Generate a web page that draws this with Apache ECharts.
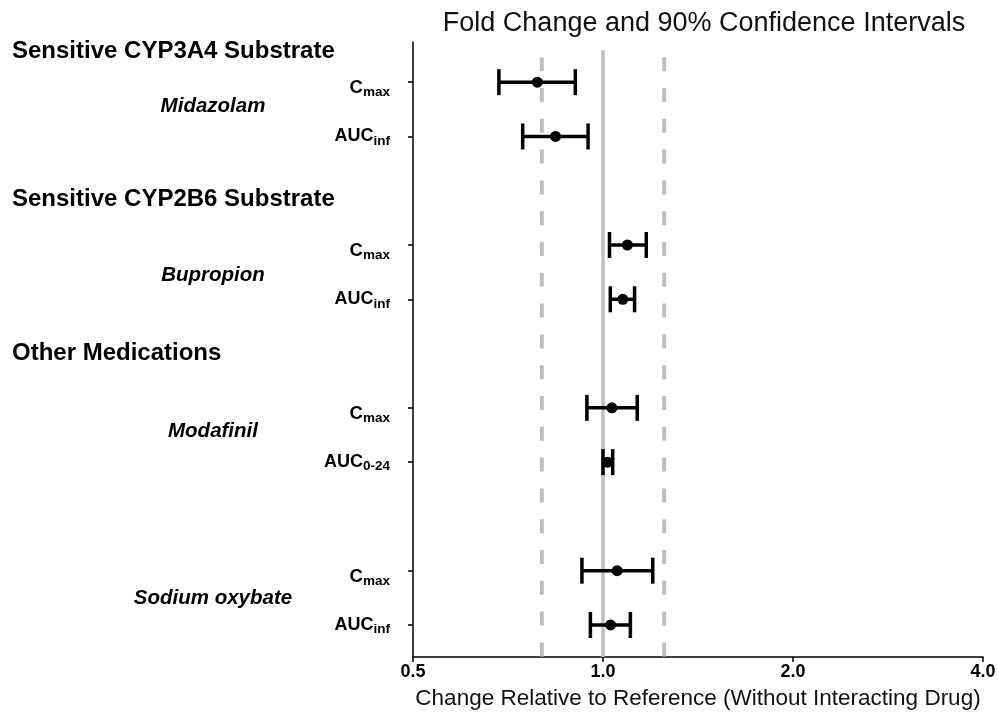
<!DOCTYPE html>
<html><head><meta charset="utf-8">
<script src="https://cdn.jsdelivr.net/npm/echarts@6/dist/echarts.min.js"></script>
<style>html,body{margin:0;padding:0;background:#fff}#c{width:998px;height:712px}</style>
</head><body><div id="c"></div>
<script>
// ---- data ----
const rowPos = [0, 1, 3, 4, 6, 7, 9, 10];
const rowMain = ['C', 'AUC', 'C', 'AUC', 'C', 'AUC', 'C', 'AUC'];
const rowSub = ['max', 'inf', 'max', 'inf', 'max', '0-24', 'max', 'inf'];
const estimates = [0.787, 0.841, 1.093, 1.075, 1.033, 1.017, 1.053, 1.028];
const lower = [0.684, 0.746, 1.024, 1.027, 0.943, 1.000, 0.926, 0.955];
const upper = [0.904, 0.947, 1.171, 1.122, 1.133, 1.036, 1.199, 1.105];
const drugs = ['Midazolam', 'Bupropion', 'Modafinil', 'Sodium oxybate'];
const groups = ['Sensitive CYP3A4 Substrate', 'Sensitive CYP2B6 Substrate', 'Other Medications'];
const xTicks = [0.5, 1, 2, 4];
const unityLine = 1;
const boundLines = [0.8, 1.25];

// ---- layout (not data) ----
const FONT = '"Liberation Sans", Arial, sans-serif';
const yMin = -0.74, yMax = 10.59;
const solidTop = -0.59, dashTop = -0.46;
const groupY = [-0.59, 2.14, 4.97];
const drugNudge = [-3, 3, -4, 1];

const chart = echarts.init(document.getElementById('c'));

const lineStyleBar = { stroke: '#000', lineWidth: 3.5 };
const capHalf = 13;

const refSeries = [];
refSeries.push({
  type: 'line', silent: true, symbol: 'none', z: 1,
  data: [[unityLine, solidTop], [unityLine, yMax]],
  lineStyle: { color: '#bfbfbf', width: 3.5, type: 'solid' }
});
boundLines.forEach(v => refSeries.push({
  type: 'line', silent: true, symbol: 'none', z: 1,
  data: [[v, dashTop], [v, yMax]],
  lineStyle: { color: '#bfbfbf', width: 4, type: [14, 16.8] }
}));

const barData = rowPos.map((p, i) => [lower[i], upper[i], p]);
const ptData = rowPos.map((p, i) => [estimates[i], p]);

chart.setOption({
  animation: false,
  backgroundColor: '#fff',
  title: {
    text: 'Fold Change and 90% Confidence Intervals',
    left: 704, textAlign: 'center', top: 10, padding: 0,
    textStyle: { fontFamily: FONT, fontSize: 27, fontWeight: 'normal', color: '#111' }
  },
  grid: { left: 413, right: 15, top: 42, bottom: 55, containLabel: false, outerBoundsMode: 'none' },
  xAxis: {
    type: 'log', logBase: 2, min: xTicks[0], max: xTicks[xTicks.length - 1],
    name: 'Change Relative to Reference (Without Interacting Drug)',
    nameLocation: 'middle', nameGap: 30,
    nameTextStyle: { fontFamily: FONT, fontSize: 22.5, color: '#111' },
    axisLine: { show: true, onZero: false, lineStyle: { color: '#000', width: 1.5 } },
    axisTick: { show: true, length: 5, lineStyle: { color: '#000', width: 1.5 } },
    axisLabel: {
      fontFamily: FONT, fontSize: 18, fontWeight: 'bold', color: '#000', margin: 6,
      formatter: v => Number(v).toFixed(1)
    },
    splitLine: { show: false }
  },
  yAxis: {
    type: 'value', inverse: true, min: yMin, max: yMax,
    axisLine: { show: true, onZero: false, lineStyle: { color: '#000', width: 1.5 } },
    axisTick: { show: true, length: 5, customValues: rowPos, lineStyle: { color: '#000', width: 1.5 } },
    axisLabel: {
      customValues: rowPos, margin: 23,
      formatter: v => {
        const i = rowPos.indexOf(Math.round(v));
        if (i < 0) return '';
        if (rowMain[i] === 'C') return '{mc|' + rowMain[i] + '}{sc|' + rowSub[i] + '}';
        return '{m|' + rowMain[i] + '}{s|' + rowSub[i] + '}';
      },
      rich: {
        m: { fontFamily: FONT, fontSize: 18, fontWeight: 'bold', color: '#000' },
        s: { fontFamily: FONT, fontSize: 13.5, fontWeight: 'bold', color: '#000', padding: [9, 0, 0, 0] },
        mc: { fontFamily: FONT, fontSize: 18.5, fontWeight: 'bold', color: '#000', padding: [12, 0, 0, 0] },
        sc: { fontFamily: FONT, fontSize: 13.5, fontWeight: 'bold', color: '#000', padding: [21, 0, 0, 0] }
      }
    },
    splitLine: { show: false }
  },
  series: refSeries.concat([
    {
      type: 'custom', z: 3,
      data: barData,
      encode: { x: [0, 1], y: 2 },
      renderItem: (params, api) => {
        const y = api.value(2);
        const a = api.coord([api.value(0), y]);
        const b = api.coord([api.value(1), y]);
        return {
          type: 'group', children: [
            { type: 'line', shape: { x1: a[0], y1: a[1], x2: b[0], y2: b[1] }, style: lineStyleBar },
            { type: 'line', shape: { x1: a[0], y1: a[1] - capHalf, x2: a[0], y2: a[1] + capHalf }, style: lineStyleBar },
            { type: 'line', shape: { x1: b[0], y1: b[1] - capHalf, x2: b[0], y2: b[1] + capHalf }, style: lineStyleBar }
          ]
        };
      }
    },
    {
      type: 'scatter', z: 4, symbol: 'circle', symbolSize: 11,
      itemStyle: { color: '#000', opacity: 1 },
      data: ptData
    }
  ])
});

// text annotations placed through the y axis scale
const gfx = [];
groups.forEach((g, k) => {
  const y = chart.convertToPixel({ yAxisIndex: 0 }, groupY[k]);
  gfx.push({
    type: 'text', x: 12, y: y + 1,
    style: { text: g, fontFamily: FONT, fontSize: 24, fontWeight: 'bold', fill: '#000', align: 'left', verticalAlign: 'middle' }
  });
});
drugs.forEach((d, k) => {
  const y = chart.convertToPixel({ yAxisIndex: 0 }, (rowPos[2 * k] + rowPos[2 * k + 1]) / 2);
  gfx.push({
    type: 'text', x: 213, y: y + drugNudge[k],
    style: { text: d, fontFamily: FONT, fontSize: 20.5, fontWeight: 'bold', fontStyle: 'italic', fill: '#000', align: 'center', verticalAlign: 'middle' }
  });
});
chart.setOption({ graphic: gfx });
</script>
</body></html>
